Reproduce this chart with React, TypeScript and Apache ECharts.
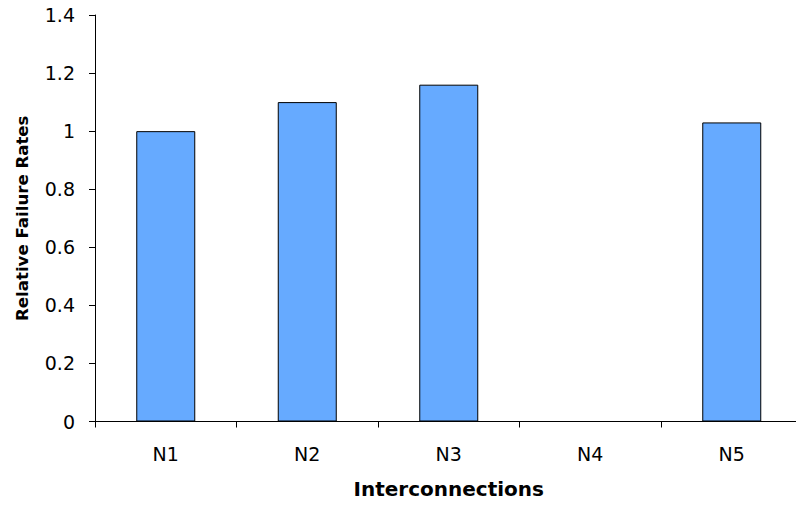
import React, { useEffect, useRef } from "react";
import * as echarts from "echarts";

// Interconnection types and their failure rates relative to N1
const categories = ["N1", "N2", "N3", "N4", "N5"];
const relativeFailureRates: (number | null)[] = [1.0, 1.1, 1.16, null, 1.03];
const yTicks = { min: 0, max: 1.4, interval: 0.2 };

const FONT = "DejaVu Sans";

export default function App() {
  const ref = useRef<HTMLDivElement>(null);

  useEffect(() => {
    if (!ref.current) return;
    const chart = echarts.init(ref.current, null, { renderer: "svg" });
    chart.setOption({
      animation: false,
      backgroundColor: "#ffffff",
      grid: {
        left: 95,
        top: 15,
        width: 707.5,
        bottom: 84.5,
        containLabel: false,
        outerBoundsMode: "none",
      },
      xAxis: {
        type: "category",
        data: categories,
        boundaryGap: true,
        name: "Interconnections",
        nameLocation: "middle",
        nameGap: 57,
        nameTextStyle: { fontFamily: FONT, fontSize: 20, fontWeight: "bold", color: "#000" },
        axisLine: { show: true, lineStyle: { color: "#000", width: 1 } },
        axisTick: { show: true, length: 6, alignWithLabel: false, lineStyle: { color: "#000" } },
        axisLabel: { fontFamily: FONT, fontSize: 19, color: "#000", margin: 23 },
        splitLine: { show: false },
      },
      yAxis: {
        type: "value",
        min: yTicks.min,
        max: yTicks.max,
        interval: yTicks.interval,
        name: "Relative Failure Rates",
        nameLocation: "middle",
        nameGap: 64,
        nameRotate: 90,
        nameTextStyle: { fontFamily: FONT, fontSize: 16.6, fontWeight: "bold", color: "#000" },
        axisLine: { show: true, lineStyle: { color: "#000", width: 1 } },
        axisTick: { show: true, length: 6, inside: false, lineStyle: { color: "#000" } },
        axisLabel: { fontFamily: FONT, fontSize: 19, color: "#000", margin: 20 },
        splitLine: { show: false },
      },
      series: [
        {
          type: "bar",
          data: relativeFailureRates,
          barWidth: 59,
          itemStyle: { color: "#66AAFF", borderColor: "#000", borderWidth: 1 },
        },
      ],
    });
    return () => chart.dispose();
  }, []);

  return (
    <div
      ref={ref}
      style={{ position: "fixed", left: 0, top: 0, width: 796, height: 506 }}
    />
  );
}
